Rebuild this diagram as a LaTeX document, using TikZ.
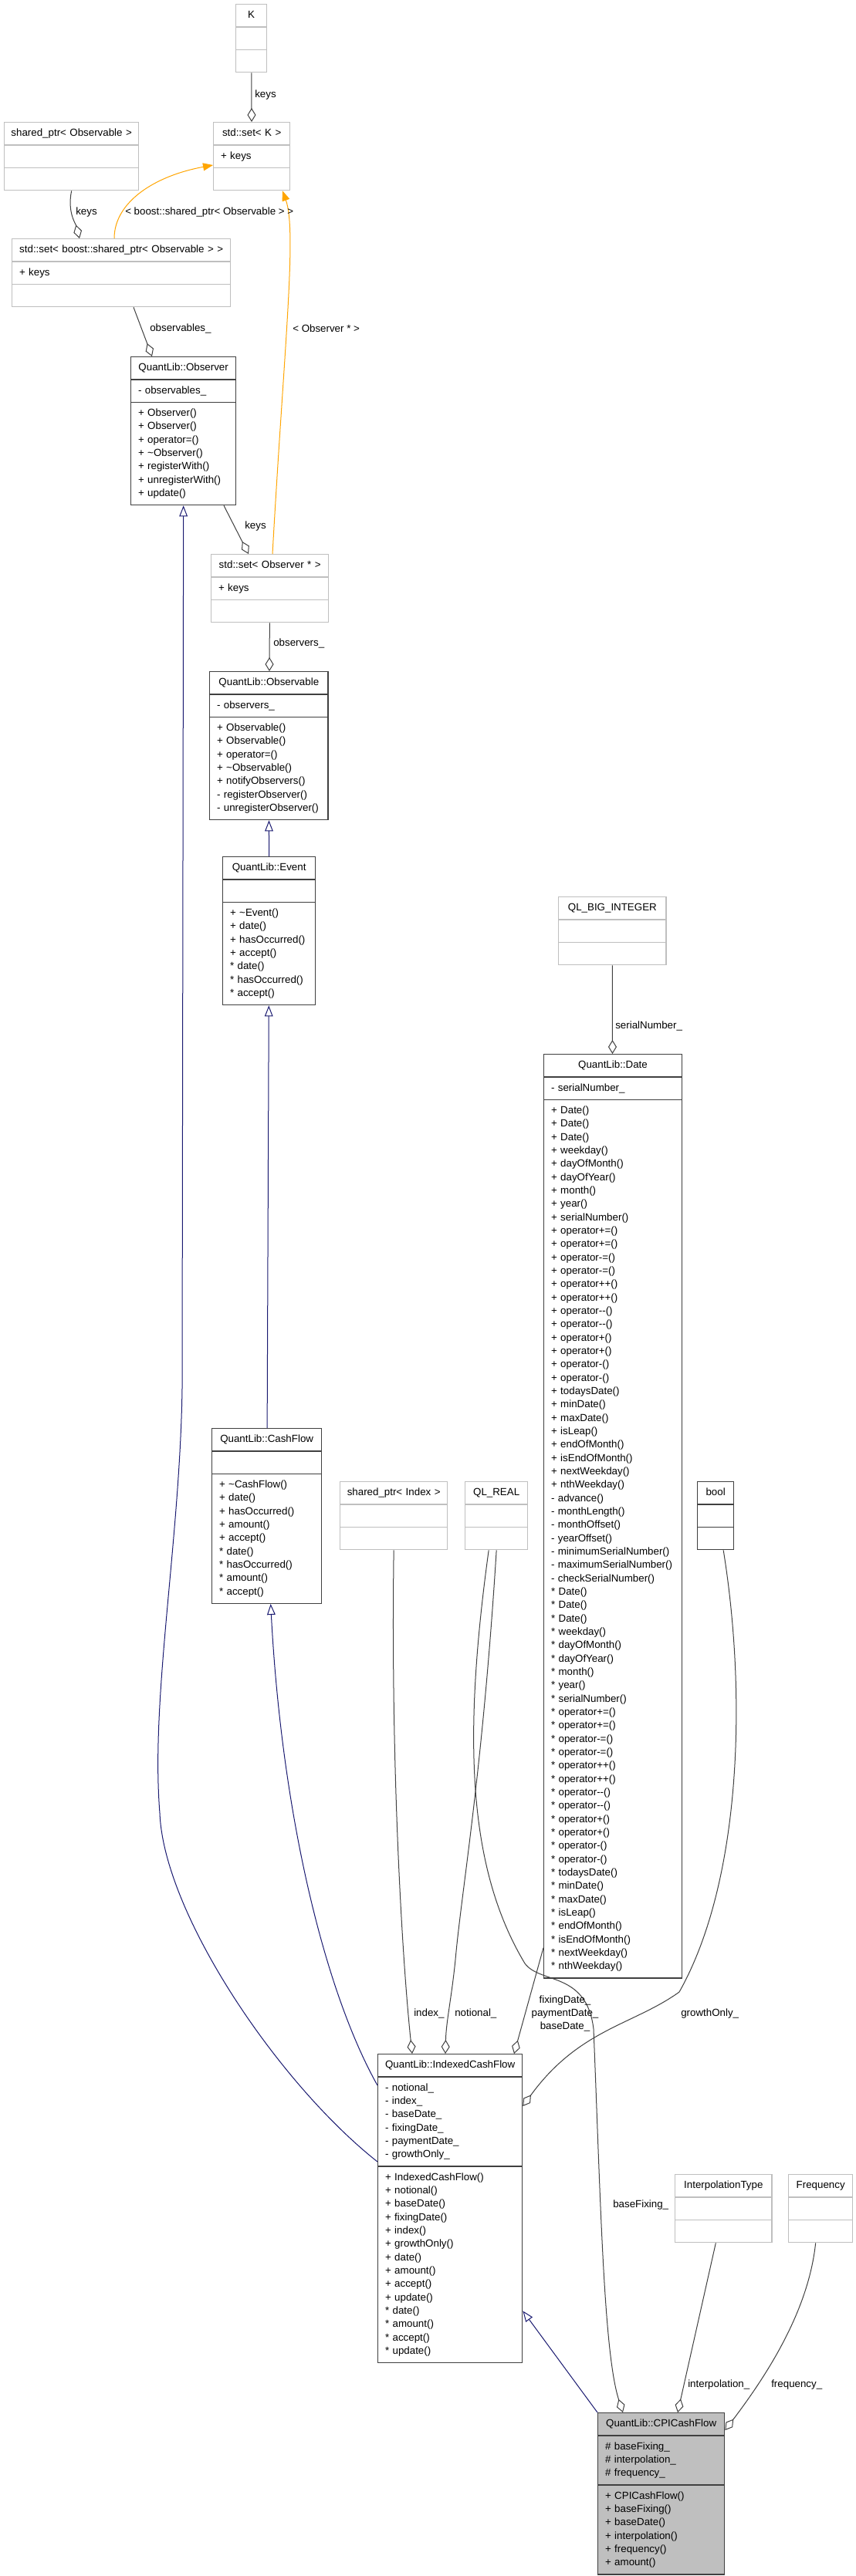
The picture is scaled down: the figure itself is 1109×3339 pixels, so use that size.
\documentclass[tikz,border=0pt]{standalone}
\usepackage{fontspec}
\newfontfamily\dxfont{Liberation Sans}
\usetikzlibrary{shapes.multipart,arrows.meta,calc}
\definecolor{dxDark}{HTML}{404040}
\definecolor{dxGray}{HTML}{BFBFBF}
\definecolor{dxFill}{HTML}{BFBFBF}
\definecolor{dxBlue}{HTML}{191970}
\definecolor{dxOrange}{HTML}{FFA500}
\newcommand{\dxsize}{\dxfont\fontsize{10pt}{13pt}\selectfont}
\newcommand{\dxtitle}[1]{\hbox to\linewidth{\hss\strut#1\hss}}
\tikzset{
    cls/.style={rectangle split, rectangle split parts=3, draw=dxDark, line width=1pt, inner xsep=7pt, inner ysep=4pt, align=left, anchor=north west, font=\dxsize},
    clsgray/.style={cls, draw=dxGray},
    clsfill/.style={cls, fill=dxFill},
    aggr/.style={draw=dxDark, line width=0.75pt, -{Diamond[open, length=13.5pt, width=8.25pt]}},
    inh/.style={draw=dxBlue, line width=0.75pt, -{Triangle[open, length=10.5pt, width=8pt]}},
    tmpl/.style={draw=dxOrange, line width=0.75pt, -{Triangle[length=9.75pt, width=7.5pt]}},
    lbl/.style={font=\dxsize, inner sep=0pt, anchor=west}
}

\begin{document}
\begin{tikzpicture}[x=0.75pt, y=-0.75pt]
    \path[use as bounding box, fill=white] (0,0) rectangle (1109,3339);

    % template classes at the top
    \node[clsgray, text width=16pt] (k) at (305,5) {\dxtitle{K}\nodepart{two}\strut\nodepart{three}\strut};
    \node[clsgray, text width=60.25pt] (setk) at (276,158) {\dxtitle{std::set< K >}\nodepart{two}\strut + keys\nodepart{three}\strut};
    \node[clsgray, text width=116.5pt] (spobs) at (5,158) {\dxtitle{shared\_ptr< Observable >}\nodepart{two}\strut\nodepart{three}\strut};
    \node[clsgray, text width=198.25pt] (setbsp) at (15,309) {\dxtitle{std::set< boost::shared\_ptr< Observable > >}\nodepart{two}\strut + keys\nodepart{three}\strut};
    \node[cls, text width=88pt] (observer) at (169,462) {\dxtitle{QuantLib::Observer}
        \nodepart{two}\strut - observables\_
        \nodepart{three}\strut + Observer()\\+ Observer()\\+ operator=()\\+ \textasciitilde Observer()\\+ registerWith()\\+ unregisterWith()\\+ update()\strut};
    \node[clsgray, text width=100pt] (setobsptr) at (273,718) {\dxtitle{std::set< Observer * >}\nodepart{two}\strut + keys\nodepart{three}\strut};
    \node[cls, text width=101pt] (observable) at (271,870) {\dxtitle{QuantLib::Observable}
        \nodepart{two}\strut - observers\_
        \nodepart{three}\strut + Observable()\\+ Observable()\\+ operator=()\\+ \textasciitilde Observable()\\+ notifyObservers()\\- registerObserver()\\- unregisterObserver()\strut};
    \node[cls, text width=76pt] (event) at (288,1110) {\dxtitle{QuantLib::Event}
        \nodepart{two}\strut
        \nodepart{three}\strut + \textasciitilde Event()\\+ date()\\+ hasOccurred()\\+ accept()\\{*} date()\\{*} hasOccurred()\\{*} accept()\strut};

    % date and its member type
    \node[clsgray, text width=90.5pt] (qlbig) at (723,1162) {\dxtitle{QL\_BIG\_INTEGER}\nodepart{two}\strut\nodepart{three}\strut};
    \node[cls, text width=120pt] (date) at (704,1366) {\dxtitle{QuantLib::Date}
        \nodepart{two}\strut - serialNumber\_
        \nodepart{three}\strut + Date()\\+ Date()\\+ Date()\\+ weekday()\\+ dayOfMonth()\\+ dayOfYear()\\+ month()\\+ year()\\+ serialNumber()\\
        + operator+=()\\+ operator+=()\\+ operator-=()\\+ operator-=()\\+ operator++()\\+ operator++()\\+ operator-{}-()\\+ operator-{}-()\\
        + operator+()\\+ operator+()\\+ operator-()\\+ operator-()\\+ todaysDate()\\+ minDate()\\+ maxDate()\\+ isLeap()\\
        + endOfMonth()\\+ isEndOfMonth()\\+ nextWeekday()\\+ nthWeekday()\\
        - advance()\\- monthLength()\\- monthOffset()\\- yearOffset()\\- minimumSerialNumber()\\- maximumSerialNumber()\\- checkSerialNumber()\\
        {*} Date()\\{*} Date()\\{*} Date()\\{*} weekday()\\{*} dayOfMonth()\\{*} dayOfYear()\\{*} month()\\{*} year()\\{*} serialNumber()\\
        {*} operator+=()\\{*} operator+=()\\{*} operator-=()\\{*} operator-=()\\{*} operator++()\\{*} operator++()\\{*} operator-{}-()\\{*} operator-{}-()\\
        {*} operator+()\\{*} operator+()\\{*} operator-()\\{*} operator-()\\{*} todaysDate()\\{*} minDate()\\{*} maxDate()\\{*} isLeap()\\
        {*} endOfMonth()\\{*} isEndOfMonth()\\{*} nextWeekday()\\{*} nthWeekday()\strut};

    % middle row
    \node[cls, text width=92.5pt] (cashflow) at (274,1851) {\dxtitle{QuantLib::CashFlow}
        \nodepart{two}\strut
        \nodepart{three}\strut + \textasciitilde CashFlow()\\+ date()\\+ hasOccurred()\\+ amount()\\+ accept()\\{*} date()\\{*} hasOccurred()\\{*} amount()\\{*} accept()\strut};
    \node[clsgray, text width=90.25pt] (spindex) at (440,1920) {\dxtitle{shared\_ptr< Index >}\nodepart{two}\strut\nodepart{three}\strut};
    \node[clsgray, text width=46.75pt] (qlreal) at (602,1920) {\dxtitle{QL\_REAL}\nodepart{two}\strut\nodepart{three}\strut};
    \node[cls, text width=21.25pt] (bool) at (903,1920) {\dxtitle{bool}\nodepart{two}\strut\nodepart{three}\strut};

    % cash flows at the bottom
    \node[cls, text width=126.25pt] (icf) at (489,2662) {\dxtitle{QuantLib::IndexedCashFlow}
        \nodepart{two}\strut - notional\_\\- index\_\\- baseDate\_\\- fixingDate\_\\- paymentDate\_\\- growthOnly\_\strut
        \nodepart{three}\strut + IndexedCashFlow()\\+ notional()\\+ baseDate()\\+ fixingDate()\\+ index()\\+ growthOnly()\\+ date()\\+ amount()\\+ accept()\\+ update()\\{*} date()\\{*} amount()\\{*} accept()\\{*} update()\strut};
    \node[clsgray, text width=80pt] (interp) at (874,2818) {\dxtitle{InterpolationType}\nodepart{two}\strut\nodepart{three}\strut};
    \node[clsgray, text width=48.25pt] (freq) at (1021,2818) {\dxtitle{Frequency}\nodepart{two}\strut\nodepart{three}\strut};
    \node[clsfill, text width=109pt] (cpi) at (774,3127) {\dxtitle{QuantLib::CPICashFlow}
        \nodepart{two}\strut \# baseFixing\_\\\# interpolation\_\\\# frequency\_\strut
        \nodepart{three}\strut + CPICashFlow()\\+ baseFixing()\\+ baseDate()\\+ interpolation()\\+ frequency()\\+ amount()\strut};

    % connectors
    \draw[aggr] (k) -- (setk);
    \draw[aggr] (spobs.south) .. controls (87,275) and (98,290) .. ($(setbsp.north west)+(88,0)$);
    \draw[tmpl] ($(setbsp.north west)+(133,0)$) .. controls (148,262) and (200,228) .. ($(setk.north west)+(0,56)$);
    \draw[tmpl] ($(setobsptr.north west)+(80,0)$) .. controls (368,450) and (385,300) .. ($(setk.south west)+(90,0)$);
    \draw[aggr] ($(setbsp.south west)+(158,0)$) -- ($(observer.north west)+(28,0)$);
    \draw[aggr] ($(observer.south west)+(121,0)$) -- ($(setobsptr.north west)+(49,0)$);
    \draw[aggr] (setobsptr) -- (observable);
    \draw[inh] (event) -- (observable);
    \draw[inh] (cashflow) -- (event);
    \draw[inh] ($(icf.north west)+(0,140)$) .. controls (360,2700) and (212,2480) .. (207,2350) .. controls (195,2200) and (233,2000) .. (236,1800) -- (observer.south);
    \draw[inh] ($(icf.north west)+(0,41)$) .. controls (420,2580) and (365,2350) .. ($(cashflow.south)+(5,0)$);
    \draw[aggr] (qlbig) -- (date);
    \draw[aggr] (spindex.south) .. controls (506,2300) and (522,2550) .. ($(icf.north west)+(45,0)$);
    \draw[aggr] (qlreal.south) .. controls (625,2300) and (598,2450) .. (590,2540) .. controls (585,2590) and (578,2620) .. ($(icf.north west)+(88,0)$);
    \draw[aggr] ($(date.south west)+(0,-40)$) -- ($(icf.north west)+(177,0)$);
    \draw[aggr] ($(qlreal.south)+(-10,0)$) .. controls (600,2250) and (605,2420) .. (680,2545) .. controls (700,2572) and (760,2555) .. (769,2630) .. controls (778,2850) and (782,3050) .. ($(cpi.north west)+(33,0)$);
    \draw[aggr] ($(bool.south)+(10,0)$) .. controls (968,2200) and (960,2440) .. (880,2582) .. controls (820,2625) and (750,2630) .. ($(icf.north east)+(0,68)$);
    \draw[aggr] ($(interp.south)+(-10,0)$) -- ($(cpi.north west)+(104,0)$);
    \draw[aggr] ($(freq.south)+(-6.5,0)$) .. controls (1048,2990) and (1000,3070) .. ($(cpi.north east)+(0,23)$);
    \draw[inh] (cpi.north west) -- ($(icf.south east)+(0,-68)$);

    % edge labels
    \node[lbl] (lkeysk) at (330,123) {keys};
    \node[lbl] (lkeyssp) at (98,275) {keys};
    \node[lbl] (lbsp) at (162,275) {< boost::shared\_ptr< Observable > >};
    \node[lbl] (lobsptr) at (379,426) {< Observer * >};
    \node[lbl] (lobservables) at (194,426) {observables\_};
    \node[lbl] (lkeysobs) at (317,682) {keys};
    \node[lbl] (lobservers) at (354,834) {observers\_};
    \node[lbl] (lserial) at (797,1330) {serialNumber\_};
    \node[lbl] (lindex) at (536,2610) {index\_};
    \node[lbl] (lnotional) at (589,2610) {notional\_};
    \node[lbl, anchor=center, align=center] (ldates) at (732,2610) {fixingDate\_\\paymentDate\_\\baseDate\_};
    \node[lbl] (lgrowth) at (882,2610) {growthOnly\_};
    \node[lbl] (lbasefix) at (794,2858) {baseFixing\_};
    \node[lbl] (linterp) at (891,3091) {interpolation\_};
    \node[lbl] (lfreq) at (999,3091) {frequency\_};
\end{tikzpicture}
\end{document}
